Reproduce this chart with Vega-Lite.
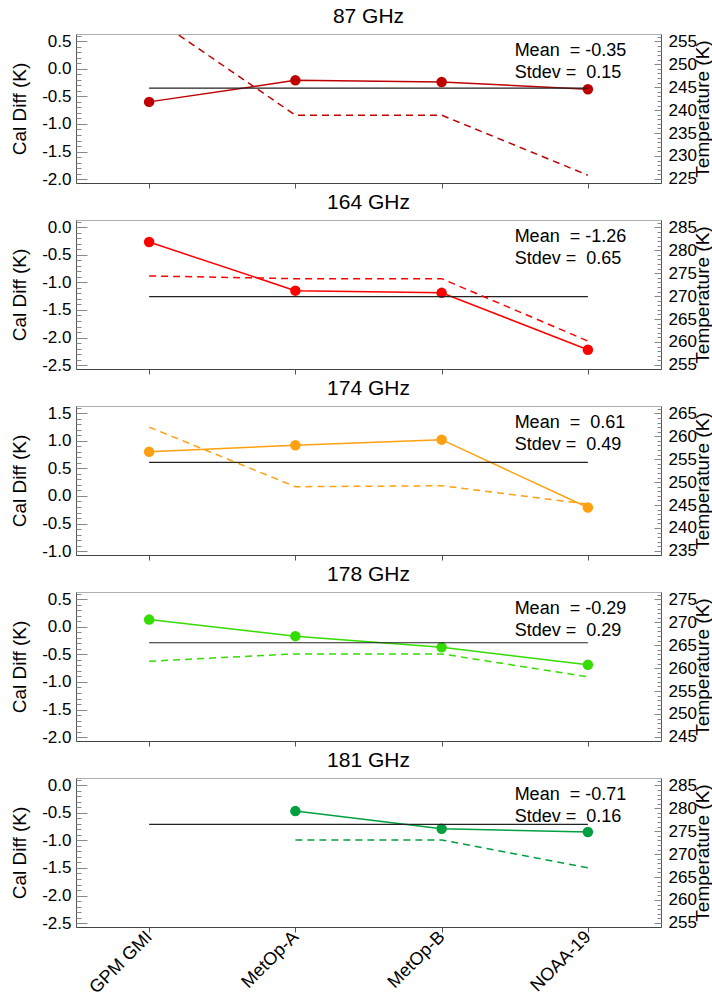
{
  "$schema": "https://vega.github.io/schema/vega-lite/v6.json",
  "padding": {"left": 10, "top": 5, "right": 0, "bottom": 0},
  "spacing": 2,
  "datasets": {
    "cal": [
      {"band": "87 GHz", "sat": "GPM GMI", "caldiff": -0.60, "temp": 260.8},
      {"band": "87 GHz", "sat": "MetOp-A", "caldiff": -0.21, "temp": 238.9},
      {"band": "87 GHz", "sat": "MetOp-B", "caldiff": -0.24, "temp": 238.9},
      {"band": "87 GHz", "sat": "NOAA-19", "caldiff": -0.37, "temp": 225.8},
      {"band": "164 GHz", "sat": "GPM GMI", "caldiff": -0.27, "temp": 274.4},
      {"band": "164 GHz", "sat": "MetOp-A", "caldiff": -1.15, "temp": 273.8},
      {"band": "164 GHz", "sat": "MetOp-B", "caldiff": -1.19, "temp": 273.8},
      {"band": "164 GHz", "sat": "NOAA-19", "caldiff": -2.22, "temp": 260.2},
      {"band": "174 GHz", "sat": "GPM GMI", "caldiff": 0.80, "temp": 262.0},
      {"band": "174 GHz", "sat": "MetOp-A", "caldiff": 0.92, "temp": 249.0},
      {"band": "174 GHz", "sat": "MetOp-B", "caldiff": 1.02, "temp": 249.2},
      {"band": "174 GHz", "sat": "NOAA-19", "caldiff": -0.21, "temp": 245.2},
      {"band": "178 GHz", "sat": "GPM GMI", "caldiff": 0.13, "temp": 261.5},
      {"band": "178 GHz", "sat": "MetOp-A", "caldiff": -0.17, "temp": 263.1},
      {"band": "178 GHz", "sat": "MetOp-B", "caldiff": -0.37, "temp": 263.1},
      {"band": "178 GHz", "sat": "NOAA-19", "caldiff": -0.69, "temp": 258.1},
      {"band": "181 GHz", "sat": "MetOp-A", "caldiff": -0.47, "temp": 273.1},
      {"band": "181 GHz", "sat": "MetOp-B", "caldiff": -0.79, "temp": 273.1},
      {"band": "181 GHz", "sat": "NOAA-19", "caldiff": -0.85, "temp": 267.0}
    ],
    "stats": [
      {"band": "87 GHz", "mean": -0.35, "stdev": 0.15, "label": "Mean\u00a0 = -0.35\nStdev =\u00a0 0.15"},
      {"band": "164 GHz", "mean": -1.26, "stdev": 0.65, "label": "Mean\u00a0 = -1.26\nStdev =\u00a0 0.65"},
      {"band": "174 GHz", "mean": 0.61, "stdev": 0.49, "label": "Mean\u00a0 =\u00a0 0.61\nStdev =\u00a0 0.49"},
      {"band": "178 GHz", "mean": -0.29, "stdev": 0.29, "label": "Mean\u00a0 = -0.29\nStdev =\u00a0 0.29"},
      {"band": "181 GHz", "mean": -0.71, "stdev": 0.16, "label": "Mean\u00a0 = -0.71\nStdev =\u00a0 0.16"}
    ]
  },
  "vconcat": [
    {
      "width": 585, "height": 149,
      "title": "87 GHz",
      "resolve": {"scale": {"y": "independent"}},
      "layer": [
        {
          "data": {"name": "cal"},
          "transform": [{"filter": "datum.band === '87 GHz'"}],
          "mark": {"type": "line", "color": "#c00000", "strokeWidth": 1.5, "point": {"filled": true, "size": 110, "color": "#c00000", "opacity": 1}},
          "encoding": {
            "x": {"field": "sat", "type": "nominal", "scale": {"type": "point", "padding": 0.5, "domain": ["GPM GMI", "MetOp-A", "MetOp-B", "NOAA-19"]}, "axis": {"labels": false, "title": null, "tickSize": 5}},
            "y": {"field": "caldiff", "type": "quantitative", "scale": {"domain": [-2.07, 0.63], "nice": false, "zero": false},
              "axis": {"orient": "left", "values": [-2, -1.5, -1, -0.5, 0, 0.5], "labelExpr": "replace(format(datum.value, '.1f'), '\u2212', '-')", "tickSize": -11, "labelPadding": 16, "title": "Cal Diff (K)"}}
          }
        },
        {
          "data": {"name": "stats"},
          "transform": [{"filter": "datum.band === '87 GHz'"}],
          "mark": {"type": "rule", "color": "#222222", "strokeWidth": 1.2},
          "encoding": {
            "x": {"datum": "GPM GMI"}, "x2": {"datum": "NOAA-19"},
            "y": {"field": "mean", "type": "quantitative", "scale": {"domain": [-2.07, 0.63], "nice": false, "zero": false},
              "axis": {"orient": "left", "values": [-2,-1.9,-1.8,-1.7,-1.6,-1.5,-1.4,-1.3,-1.2,-1.1,-1,-0.9,-0.8,-0.7,-0.6,-0.5,-0.4,-0.3,-0.2,-0.1,0,0.1,0.2,0.3,0.4,0.5,0.6], "labels": false, "domain": false, "tickSize": -5, "title": null}}
          }
        },
        {
          "data": {"name": "cal"},
          "transform": [{"filter": "datum.band === '87 GHz'"}],
          "mark": {"type": "line", "color": "#c00000", "strokeWidth": 1.5, "strokeDash": [7, 5], "clip": true},
          "encoding": {
            "x": {"field": "sat", "type": "nominal"},
            "y": {"field": "temp", "type": "quantitative", "scale": {"domain": [224.1, 256.6], "nice": false, "zero": false},
              "axis": {"orient": "right", "values": [225, 230, 235, 240, 245, 250, 255], "tickSize": -7, "labelPadding": 14, "title": "Temperature (K)", "titleAngle": 270, "titleBaseline": "top", "titlePadding": -3}}
          }
        },
        {
          "data": {"name": "stats"},
          "transform": [{"filter": "datum.band === '87 GHz'"}],
          "mark": {"type": "text", "align": "left", "baseline": "top", "lineBreak": "\n", "lineHeight": 22, "dx": 73, "fontSize": 18, "font": "Liberation Sans", "color": "black"},
          "encoding": {
            "x": {"datum": "MetOp-B"},
            "y": {"datum": 254.9, "type": "quantitative", "scale": {"domain": [224.1, 256.6], "nice": false, "zero": false},
              "axis": {"orient": "right", "values": [225,226,227,228,229,230,231,232,233,234,235,236,237,238,239,240,241,242,243,244,245,246,247,248,249,250,251,252,253,254,255,256], "labels": false, "domain": false, "tickSize": -4, "title": null}},
            "text": {"field": "label"}
          }
        }
      ]
    },
    {
      "width": 585, "height": 149,
      "title": "164 GHz",
      "resolve": {"scale": {"y": "independent"}},
      "layer": [
        {
          "data": {"name": "cal"},
          "transform": [{"filter": "datum.band === '164 GHz'"}],
          "mark": {"type": "line", "color": "#ff0000", "strokeWidth": 1.5, "point": {"filled": true, "size": 110, "color": "#ff0000", "opacity": 1}},
          "encoding": {
            "x": {"field": "sat", "type": "nominal", "scale": {"type": "point", "padding": 0.5, "domain": ["GPM GMI", "MetOp-A", "MetOp-B", "NOAA-19"]}, "axis": {"labels": false, "title": null, "tickSize": 5}},
            "y": {"field": "caldiff", "type": "quantitative", "scale": {"domain": [-2.57, 0.13], "nice": false, "zero": false},
              "axis": {"orient": "left", "values": [-2.5, -2, -1.5, -1, -0.5, 0], "labelExpr": "replace(format(datum.value, '.1f'), '\u2212', '-')", "tickSize": -11, "labelPadding": 16, "title": "Cal Diff (K)"}}
          }
        },
        {
          "data": {"name": "stats"},
          "transform": [{"filter": "datum.band === '164 GHz'"}],
          "mark": {"type": "rule", "color": "#222222", "strokeWidth": 1.2},
          "encoding": {
            "x": {"datum": "GPM GMI"}, "x2": {"datum": "NOAA-19"},
            "y": {"field": "mean", "type": "quantitative", "scale": {"domain": [-2.57, 0.13], "nice": false, "zero": false},
              "axis": {"orient": "left", "values": [-2.5,-2.4,-2.3,-2.2,-2.1,-2,-1.9,-1.8,-1.7,-1.6,-1.5,-1.4,-1.3,-1.2,-1.1,-1,-0.9,-0.8,-0.7,-0.6,-0.5,-0.4,-0.3,-0.2,-0.1,0,0.1], "labels": false, "domain": false, "tickSize": -5, "title": null}}
          }
        },
        {
          "data": {"name": "cal"},
          "transform": [{"filter": "datum.band === '164 GHz'"}],
          "mark": {"type": "line", "color": "#ff0000", "strokeWidth": 1.5, "strokeDash": [7, 5], "clip": true},
          "encoding": {
            "x": {"field": "sat", "type": "nominal"},
            "y": {"field": "temp", "type": "quantitative", "scale": {"domain": [254.1, 286.6], "nice": false, "zero": false},
              "axis": {"orient": "right", "values": [255, 260, 265, 270, 275, 280, 285], "tickSize": -7, "labelPadding": 14, "title": "Temperature (K)", "titleAngle": 270, "titleBaseline": "top", "titlePadding": -3}}
          }
        },
        {
          "data": {"name": "stats"},
          "transform": [{"filter": "datum.band === '164 GHz'"}],
          "mark": {"type": "text", "align": "left", "baseline": "top", "lineBreak": "\n", "lineHeight": 22, "dx": 73, "fontSize": 18, "font": "Liberation Sans", "color": "black"},
          "encoding": {
            "x": {"datum": "MetOp-B"},
            "y": {"datum": 284.9, "type": "quantitative", "scale": {"domain": [254.1, 286.6], "nice": false, "zero": false},
              "axis": {"orient": "right", "values": [255,256,257,258,259,260,261,262,263,264,265,266,267,268,269,270,271,272,273,274,275,276,277,278,279,280,281,282,283,284,285,286], "labels": false, "domain": false, "tickSize": -4, "title": null}},
            "text": {"field": "label"}
          }
        }
      ]
    },
    {
      "width": 585, "height": 149,
      "title": "174 GHz",
      "resolve": {"scale": {"y": "independent"}},
      "layer": [
        {
          "data": {"name": "cal"},
          "transform": [{"filter": "datum.band === '174 GHz'"}],
          "mark": {"type": "line", "color": "#ffa010", "strokeWidth": 1.5, "point": {"filled": true, "size": 110, "color": "#ffa010", "opacity": 1}},
          "encoding": {
            "x": {"field": "sat", "type": "nominal", "scale": {"type": "point", "padding": 0.5, "domain": ["GPM GMI", "MetOp-A", "MetOp-B", "NOAA-19"]}, "axis": {"labels": false, "title": null, "tickSize": 5}},
            "y": {"field": "caldiff", "type": "quantitative", "scale": {"domain": [-1.07, 1.63], "nice": false, "zero": false},
              "axis": {"orient": "left", "values": [-1, -0.5, 0, 0.5, 1, 1.5], "labelExpr": "replace(format(datum.value, '.1f'), '\u2212', '-')", "tickSize": -11, "labelPadding": 16, "title": "Cal Diff (K)"}}
          }
        },
        {
          "data": {"name": "stats"},
          "transform": [{"filter": "datum.band === '174 GHz'"}],
          "mark": {"type": "rule", "color": "#222222", "strokeWidth": 1.2},
          "encoding": {
            "x": {"datum": "GPM GMI"}, "x2": {"datum": "NOAA-19"},
            "y": {"field": "mean", "type": "quantitative", "scale": {"domain": [-1.07, 1.63], "nice": false, "zero": false},
              "axis": {"orient": "left", "values": [-1,-0.9,-0.8,-0.7,-0.6,-0.5,-0.4,-0.3,-0.2,-0.1,0,0.1,0.2,0.3,0.4,0.5,0.6,0.7,0.8,0.9,1,1.1,1.2,1.3,1.4,1.5,1.6], "labels": false, "domain": false, "tickSize": -5, "title": null}}
          }
        },
        {
          "data": {"name": "cal"},
          "transform": [{"filter": "datum.band === '174 GHz'"}],
          "mark": {"type": "line", "color": "#ffa010", "strokeWidth": 1.5, "strokeDash": [7, 5], "clip": true},
          "encoding": {
            "x": {"field": "sat", "type": "nominal"},
            "y": {"field": "temp", "type": "quantitative", "scale": {"domain": [234.1, 266.6], "nice": false, "zero": false},
              "axis": {"orient": "right", "values": [235, 240, 245, 250, 255, 260, 265], "tickSize": -7, "labelPadding": 14, "title": "Temperature (K)", "titleAngle": 270, "titleBaseline": "top", "titlePadding": -3}}
          }
        },
        {
          "data": {"name": "stats"},
          "transform": [{"filter": "datum.band === '174 GHz'"}],
          "mark": {"type": "text", "align": "left", "baseline": "top", "lineBreak": "\n", "lineHeight": 22, "dx": 73, "fontSize": 18, "font": "Liberation Sans", "color": "black"},
          "encoding": {
            "x": {"datum": "MetOp-B"},
            "y": {"datum": 264.9, "type": "quantitative", "scale": {"domain": [234.1, 266.6], "nice": false, "zero": false},
              "axis": {"orient": "right", "values": [235,236,237,238,239,240,241,242,243,244,245,246,247,248,249,250,251,252,253,254,255,256,257,258,259,260,261,262,263,264,265,266], "labels": false, "domain": false, "tickSize": -4, "title": null}},
            "text": {"field": "label"}
          }
        }
      ]
    },
    {
      "width": 585, "height": 149,
      "title": "178 GHz",
      "resolve": {"scale": {"y": "independent"}},
      "layer": [
        {
          "data": {"name": "cal"},
          "transform": [{"filter": "datum.band === '178 GHz'"}],
          "mark": {"type": "line", "color": "#33dd00", "strokeWidth": 1.5, "point": {"filled": true, "size": 110, "color": "#33dd00", "opacity": 1}},
          "encoding": {
            "x": {"field": "sat", "type": "nominal", "scale": {"type": "point", "padding": 0.5, "domain": ["GPM GMI", "MetOp-A", "MetOp-B", "NOAA-19"]}, "axis": {"labels": false, "title": null, "tickSize": 5}},
            "y": {"field": "caldiff", "type": "quantitative", "scale": {"domain": [-2.07, 0.63], "nice": false, "zero": false},
              "axis": {"orient": "left", "values": [-2, -1.5, -1, -0.5, 0, 0.5], "labelExpr": "replace(format(datum.value, '.1f'), '\u2212', '-')", "tickSize": -11, "labelPadding": 16, "title": "Cal Diff (K)"}}
          }
        },
        {
          "data": {"name": "stats"},
          "transform": [{"filter": "datum.band === '178 GHz'"}],
          "mark": {"type": "rule", "color": "#222222", "strokeWidth": 1.2},
          "encoding": {
            "x": {"datum": "GPM GMI"}, "x2": {"datum": "NOAA-19"},
            "y": {"field": "mean", "type": "quantitative", "scale": {"domain": [-2.07, 0.63], "nice": false, "zero": false},
              "axis": {"orient": "left", "values": [-2,-1.9,-1.8,-1.7,-1.6,-1.5,-1.4,-1.3,-1.2,-1.1,-1,-0.9,-0.8,-0.7,-0.6,-0.5,-0.4,-0.3,-0.2,-0.1,0,0.1,0.2,0.3,0.4,0.5,0.6], "labels": false, "domain": false, "tickSize": -5, "title": null}}
          }
        },
        {
          "data": {"name": "cal"},
          "transform": [{"filter": "datum.band === '178 GHz'"}],
          "mark": {"type": "line", "color": "#33dd00", "strokeWidth": 1.5, "strokeDash": [7, 5], "clip": true},
          "encoding": {
            "x": {"field": "sat", "type": "nominal"},
            "y": {"field": "temp", "type": "quantitative", "scale": {"domain": [244.1, 276.6], "nice": false, "zero": false},
              "axis": {"orient": "right", "values": [245, 250, 255, 260, 265, 270, 275], "tickSize": -7, "labelPadding": 14, "title": "Temperature (K)", "titleAngle": 270, "titleBaseline": "top", "titlePadding": -3}}
          }
        },
        {
          "data": {"name": "stats"},
          "transform": [{"filter": "datum.band === '178 GHz'"}],
          "mark": {"type": "text", "align": "left", "baseline": "top", "lineBreak": "\n", "lineHeight": 22, "dx": 73, "fontSize": 18, "font": "Liberation Sans", "color": "black"},
          "encoding": {
            "x": {"datum": "MetOp-B"},
            "y": {"datum": 274.9, "type": "quantitative", "scale": {"domain": [244.1, 276.6], "nice": false, "zero": false},
              "axis": {"orient": "right", "values": [245,246,247,248,249,250,251,252,253,254,255,256,257,258,259,260,261,262,263,264,265,266,267,268,269,270,271,272,273,274,275,276], "labels": false, "domain": false, "tickSize": -4, "title": null}},
            "text": {"field": "label"}
          }
        }
      ]
    },
    {
      "width": 585, "height": 149,
      "title": "181 GHz",
      "resolve": {"scale": {"y": "independent"}},
      "layer": [
        {
          "data": {"name": "cal"},
          "transform": [{"filter": "datum.band === '181 GHz'"}],
          "mark": {"type": "line", "color": "#00a040", "strokeWidth": 1.5, "point": {"filled": true, "size": 110, "color": "#00a040", "opacity": 1}},
          "encoding": {
            "x": {"field": "sat", "type": "nominal", "scale": {"type": "point", "padding": 0.5, "domain": ["GPM GMI", "MetOp-A", "MetOp-B", "NOAA-19"]}, "axis": {"labels": true, "title": null, "tickSize": 5, "labelAngle": -45, "labelAlign": "right", "labelBaseline": "middle", "labelPadding": 2, "labelFontSize": 18}},
            "y": {"field": "caldiff", "type": "quantitative", "scale": {"domain": [-2.57, 0.13], "nice": false, "zero": false},
              "axis": {"orient": "left", "values": [-2.5, -2, -1.5, -1, -0.5, 0], "labelExpr": "replace(format(datum.value, '.1f'), '\u2212', '-')", "tickSize": -11, "labelPadding": 16, "title": "Cal Diff (K)"}}
          }
        },
        {
          "data": {"name": "stats"},
          "transform": [{"filter": "datum.band === '181 GHz'"}],
          "mark": {"type": "rule", "color": "#222222", "strokeWidth": 1.2},
          "encoding": {
            "x": {"datum": "GPM GMI"}, "x2": {"datum": "NOAA-19"},
            "y": {"field": "mean", "type": "quantitative", "scale": {"domain": [-2.57, 0.13], "nice": false, "zero": false},
              "axis": {"orient": "left", "values": [-2.5,-2.4,-2.3,-2.2,-2.1,-2,-1.9,-1.8,-1.7,-1.6,-1.5,-1.4,-1.3,-1.2,-1.1,-1,-0.9,-0.8,-0.7,-0.6,-0.5,-0.4,-0.3,-0.2,-0.1,0,0.1], "labels": false, "domain": false, "tickSize": -5, "title": null}}
          }
        },
        {
          "data": {"name": "cal"},
          "transform": [{"filter": "datum.band === '181 GHz'"}],
          "mark": {"type": "line", "color": "#00a040", "strokeWidth": 1.5, "strokeDash": [7, 5], "clip": true},
          "encoding": {
            "x": {"field": "sat", "type": "nominal"},
            "y": {"field": "temp", "type": "quantitative", "scale": {"domain": [254.1, 286.6], "nice": false, "zero": false},
              "axis": {"orient": "right", "values": [255, 260, 265, 270, 275, 280, 285], "tickSize": -7, "labelPadding": 14, "title": "Temperature (K)", "titleAngle": 270, "titleBaseline": "top", "titlePadding": -3}}
          }
        },
        {
          "data": {"name": "stats"},
          "transform": [{"filter": "datum.band === '181 GHz'"}],
          "mark": {"type": "text", "align": "left", "baseline": "top", "lineBreak": "\n", "lineHeight": 22, "dx": 73, "fontSize": 18, "font": "Liberation Sans", "color": "black"},
          "encoding": {
            "x": {"datum": "MetOp-B"},
            "y": {"datum": 284.9, "type": "quantitative", "scale": {"domain": [254.1, 286.6], "nice": false, "zero": false},
              "axis": {"orient": "right", "values": [255,256,257,258,259,260,261,262,263,264,265,266,267,268,269,270,271,272,273,274,275,276,277,278,279,280,281,282,283,284,285,286], "labels": false, "domain": false, "tickSize": -4, "title": null}},
            "text": {"field": "label"}
          }
        }
      ]
    }
  ],
  "config": {
    "view": {"stroke": "#b0b0b0", "strokeWidth": 1},
    "title": {"font": "Liberation Sans", "fontSize": 21, "fontWeight": "normal", "color": "black", "offset": 5},
    "axis": {
      "grid": false,
      "labelFont": "Liberation Sans", "labelFontSize": 17, "labelColor": "black",
      "titleFont": "Liberation Sans", "titleFontSize": 19, "titleFontWeight": "normal", "titleColor": "black",
      "domainColor": "#555555", "tickColor": "#888888", "titlePadding": 12
    },
    "axisX": {"domainColor": "#444444", "tickColor": "#555555"}
  }
}
